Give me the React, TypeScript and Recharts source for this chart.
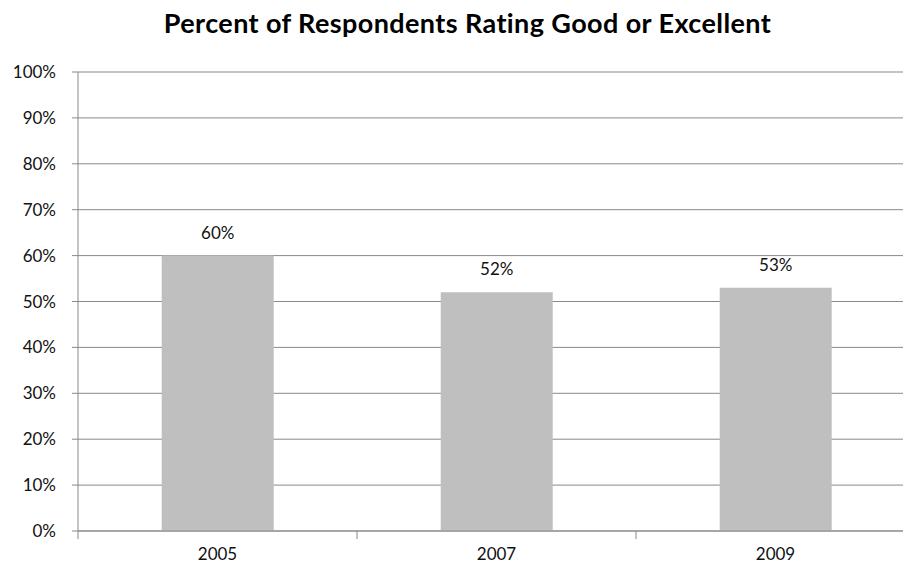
import React from "react";
import { BarChart, Bar, XAxis, YAxis, CartesianGrid, LabelList } from "recharts";

// Survey results by year
const years = ["2005", "2007", "2009"];
const goodOrExcellent = [60, 52, 53];
const percentTicks = [0, 10, 20, 30, 40, 50, 60, 70, 80, 90, 100];

const data = years.map((year, i) => ({ year, value: goodOrExcellent[i] }));

const FONT = "Lato, 'Open Sans', sans-serif";
const AXIS_GRAY = "#898989";

// Category label with a divider tick on the left edge of each band
function YearTick(props: any) {
  const { x, y, payload, width, visibleTicksCount } = props;
  const band = width / visibleTicksCount;
  const left = x - band / 2;
  return (
    <g>
      <line x1={left} y1={y - 8} x2={left} y2={y} stroke={AXIS_GRAY} strokeWidth={1} />
      <text x={x} y={y + 21} textAnchor="middle" fill="#111" fontSize={17} fontFamily={FONT}>
        {payload.value}
      </text>
    </g>
  );
}

export default function App() {
  return (
    <div
      style={{
        position: "absolute",
        left: 0,
        top: 0,
        width: 903,
        height: 565,
        overflow: "hidden",
        background: "#fff",
      }}
    >
      <div
        style={{
          position: "absolute",
          left: 0,
          top: 7,
          width: 935,
          textAlign: "center",
          fontFamily: FONT,
          fontWeight: 700,
          fontSize: 27,
          letterSpacing: 0.4,
          lineHeight: "32px",
          color: "#000",
        }}
      >
        Percent of Respondents Rating Good or Excellent
      </div>
      <BarChart
        width={935}
        height={565}
        data={data}
        margin={{ top: 72, right: 20, bottom: 0, left: 0 }}
        barCategoryGap="30%"
      >
        <CartesianGrid vertical={false} stroke={AXIS_GRAY} strokeWidth={1} />
        <XAxis
          dataKey="year"
          tickLine={false}
          axisLine={{ stroke: AXIS_GRAY }}
          tick={<YearTick />}
          interval={0}
          height={34}
        />
        <YAxis
          width={78}
          domain={[0, 100]}
          ticks={percentTicks}
          tickFormatter={(v: number) => `${v}%`}
          axisLine={{ stroke: AXIS_GRAY }}
          tickLine={{ stroke: AXIS_GRAY }}
          tickSize={6}
          tickMargin={16}
          tick={{ fill: "#111", fontSize: 17, fontFamily: FONT }}
          interval={0}
        />
        <Bar dataKey="value" fill="#bfbfbf" isAnimationActive={false}>
          <LabelList
            dataKey="value"
            position="top"
            offset={17}
            formatter={(v: any) => `${v}%`}
            fill="#111"
            fontSize={17}
            fontFamily={FONT}
          />
        </Bar>
      </BarChart>
    </div>
  );
}
